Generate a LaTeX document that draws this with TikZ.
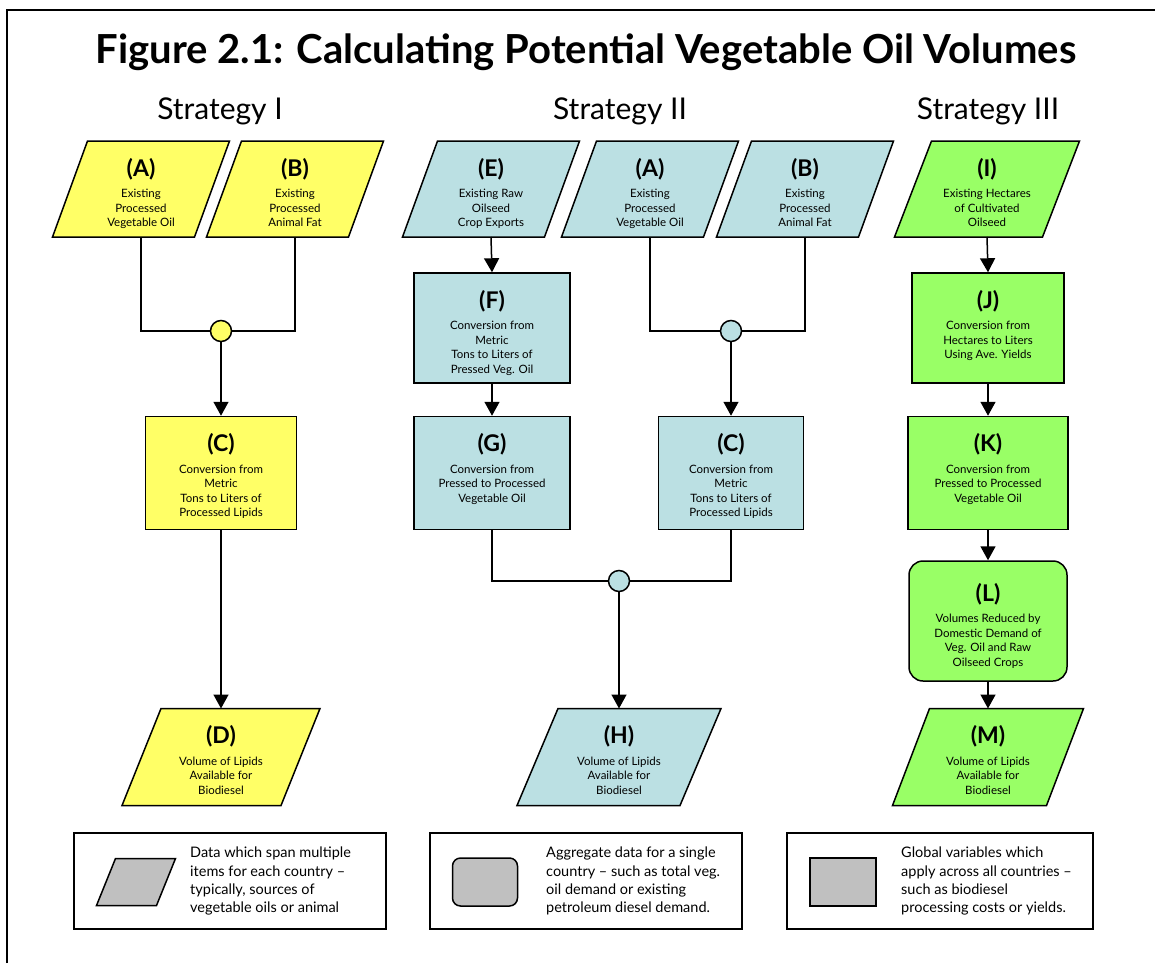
\documentclass[tikz,border=0pt]{standalone}
\usepackage{fontspec}
\setmainfont{Lato}
\usepackage{xcolor}
\definecolor{cYellow}{HTML}{FFFF66}
\definecolor{cBlue}{HTML}{BBE0E3}
\definecolor{cGreen}{HTML}{99FF66}
\definecolor{cGray}{HTML}{C0C0C0}
\usepackage{tikz}
\usetikzlibrary{positioning,arrows.meta,backgrounds}
% label on top, description below, in a box of fixed height
\newcommand{\steptext}[4]{\parbox[c][#1][t]{#2}{\centering
  {\fontsize{23}{23}\selectfont\bfseries #3}\par\vspace{7pt}%
  \fontsize{11.5}{14.5}\selectfont #4}}
% slanted outline behind a node: node, slant, fill
\newcommand{\paraback}[3]{%
  \begin{scope}[on background layer]
    \filldraw[fill=#3,line width=1.5pt] ([xshift=#2]#1.north west) -- (#1.north east)
      -- ([xshift=-#2]#1.south east) -- (#1.south west) -- cycle;
  \end{scope}}
\tikzset{
  node-box/.style={draw=black,line width=1.5pt,inner sep=0pt,
    minimum width=156pt,minimum height=113pt},
  node-round/.style={node-box,rounded corners=14pt},
  node-para/.style={inner sep=0pt,outer sep=0pt,
    minimum width=177pt,minimum height=96pt},
  node-out/.style={node-para,minimum width=200pt,minimum height=97pt},
  node-join/.style={circle,draw=black,line width=1.5pt,inner sep=0pt,minimum size=21pt},
  node-strat/.style={font=\fontsize{30}{30}\selectfont},
  legend-box/.style={draw=black,line width=1.2pt,minimum width=312pt,minimum height=96pt},
  legend-key/.style={draw=black,line width=1.5pt,fill=cGray,
    minimum width=66pt,minimum height=48pt},
  legend-text/.style={anchor=north west,inner sep=0pt,align=left,
    font=\fontsize{14.5}{18.3}\selectfont},
  link/.style={line width=1.5pt},
  arrow/.style={-{Triangle[length=14pt,width=15pt]},line width=1.5pt},
}
\begin{document}
\begin{tikzpicture}[x=1pt,y=-1pt]
  \useasboundingbox (0,0) rectangle (1155,963);
  \draw[line width=2pt] (7,963) -- (7,10) -- (1155,10);
  \node[font=\fontsize{40}{40}\selectfont\bfseries] (title) at (586,52)
    {Figure 2.1: Calculating Potential Vegetable Oil Volumes};
  \node[node-strat] (s1) at (220,111) {Strategy I};
  \node[node-strat] (s2) at (620,111) {Strategy II};
  \node[node-strat] (s3) at (988,111) {Strategy III};

  % Strategy I
  \node[node-para] (A1) at (141,189)
    {\steptext{62pt}{110pt}{(A)}{Existing\\Processed\\Vegetable Oil}};
  \paraback{A1}{35pt}{cYellow}
  \node[node-para] (B1) at (295,189)
    {\steptext{62pt}{110pt}{(B)}{Existing\\Processed\\Animal Fat}};
  \paraback{B1}{35pt}{cYellow}
  \node[node-join,fill=cYellow] (j1) at (221,331) {};
  \node[node-box,fill=cYellow,minimum width=151pt] (C1) at (221,473)
    {\steptext{79pt}{140pt}{(C)}{Conversion from\\Metric\\Tons to Liters of\\Processed Lipids}};
  \node[node-out,minimum width=198pt] (D1) at (221,757)
    {\steptext{63pt}{110pt}{(D)}{Volume of Lipids\\Available for\\Biodiesel}};
  \paraback{D1}{39pt}{cYellow}
  \draw[link] (A1.south) |- (j1.west);
  \draw[link] (B1.south) |- (j1.east);
  \draw[arrow] (j1) -- (C1.north);
  \draw[arrow] (C1.south) -- (D1.north);

  % Strategy II
  \node[node-para] (E2) at (491,189)
    {\steptext{62pt}{110pt}{(E)}{Existing Raw\\Oilseed\\Crop Exports}};
  \paraback{E2}{35pt}{cBlue}
  \node[node-para] (A2) at (650,189)
    {\steptext{62pt}{110pt}{(A)}{Existing\\Processed\\Vegetable Oil}};
  \paraback{A2}{35pt}{cBlue}
  \node[node-para] (B2) at (805,189)
    {\steptext{62pt}{110pt}{(B)}{Existing\\Processed\\Animal Fat}};
  \paraback{B2}{35pt}{cBlue}
  \node[node-box,fill=cBlue,minimum height=110pt] (F2) at (492,328)
    {\steptext{76pt}{140pt}{(F)}{Conversion from\\Metric\\Tons to Liters of\\Pressed Veg. Oil}};
  \node[node-join,fill=cBlue] (j2) at (731,331) {};
  \node[node-box,fill=cBlue] (G2) at (492,473)
    {\steptext{79pt}{140pt}{(G)}{Conversion from\\Pressed to Processed\\Vegetable Oil}};
  \node[node-box,fill=cBlue,minimum width=145pt] (C2) at (731,473)
    {\steptext{79pt}{140pt}{(C)}{Conversion from\\Metric\\Tons to Liters of\\Processed Lipids}};
  \node[node-join,fill=cBlue] (j3) at (619,581) {};
  \node[node-out,minimum width=204pt] (H2) at (619,757)
    {\steptext{63pt}{110pt}{(H)}{Volume of Lipids\\Available for\\Biodiesel}};
  \paraback{H2}{41pt}{cBlue}
  \draw[arrow] (E2.south) -- (F2.north);
  \draw[arrow] (F2.south) -- (G2.north);
  \draw[link] (A2.south) |- (j2.west);
  \draw[link] (B2.south) |- (j2.east);
  \draw[arrow] (j2) -- (C2.north);
  \draw[link] (G2.south) |- (j3.west);
  \draw[link] (C2.south) |- (j3.east);
  \draw[arrow] (j3) -- (H2.north);

  % Strategy III
  \node[node-para,minimum width=185pt] (I3) at (987,189)
    {\steptext{62pt}{110pt}{(I)}{Existing Hectares\\of Cultivated\\Oilseed}};
  \paraback{I3}{37pt}{cGreen}
  \node[node-box,fill=cGreen,minimum width=152pt,minimum height=110pt] (J3) at (988,328)
    {\steptext{76pt}{140pt}{(J)}{Conversion from\\Hectares to Liters\\Using Ave. Yields}};
  \node[node-box,fill=cGreen,minimum width=160pt] (K3) at (988,473)
    {\steptext{79pt}{140pt}{(K)}{Conversion from\\Pressed to Processed\\Vegetable Oil}};
  \node[node-round,fill=cGreen,minimum width=158pt,minimum height=120pt] (L3) at (988,621)
    {\steptext{76pt}{140pt}{(L)}{Volumes Reduced by\\Domestic Demand of\\Veg. Oil and Raw\\Oilseed Crops}};
  \node[node-out,minimum width=191pt] (M3) at (988,757)
    {\steptext{63pt}{110pt}{(M)}{Volume of Lipids\\Available for\\Biodiesel}};
  \paraback{M3}{37pt}{cGreen}
  \draw[arrow] (I3.south) -- (J3.north);
  \draw[arrow] (J3.south) -- (K3.north);
  \draw[arrow] (K3.south) -- (L3.north);
  \draw[arrow] (L3.south) -- (M3.north);

  % legend
  \node[legend-box] (leg1) at (230,881) {};
  \node[legend-box] (leg2) at (586,881) {};
  \node[legend-box,minimum width=306pt] (leg3) at (940,881) {};
  \node[node-para,minimum width=79pt,minimum height=47pt] (key1) at (136,882) {};
  \paraback{key1}{19pt}{cGray}
  \node[legend-key,rounded corners=8pt,minimum width=65pt] (key2) at (485,882) {};
  \node[legend-key] (key3) at (843,882) {};
  \begin{scope}
    \clip ([xshift=1pt,yshift=-1pt]leg1.north west) rectangle ([yshift=10pt]leg1.south east);
    \node[legend-text] (txt1) at (190,847) {Data which span multiple\\items for each country --\\typically, sources of\\vegetable oils or animal\\fats.};
  \end{scope}
  \node[legend-text] (txt2) at (546,847) {Aggregate data for a single\\country -- such as total veg.\\oil demand or existing\\petroleum diesel demand.};
  \node[legend-text] (txt3) at (901,847) {Global variables which\\apply across all countries --\\such as biodiesel\\processing costs or yields.};
\end{tikzpicture}
\end{document}
